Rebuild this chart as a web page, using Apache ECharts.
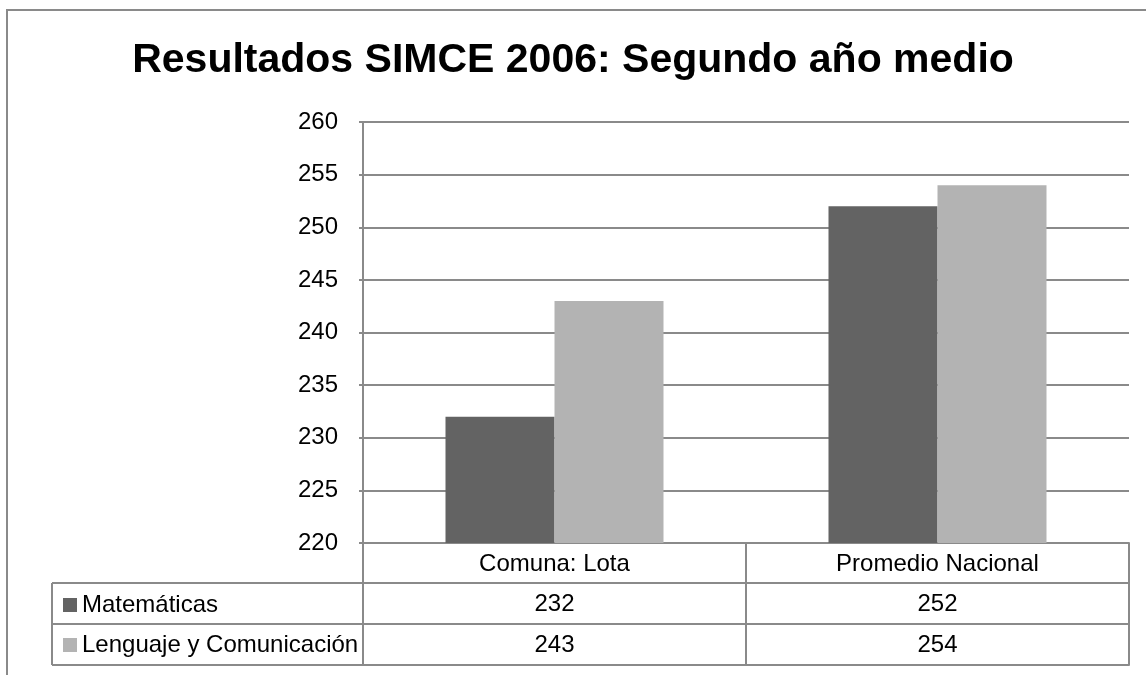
<!DOCTYPE html>
<html>
<head>
<meta charset="utf-8">
<script src="https://cdn.jsdelivr.net/npm/echarts@6/dist/echarts.min.js"></script>
<style>
  html, body { margin: 0; padding: 0; background: #fff; }
  #main { width: 1146px; height: 675px; }
</style>
</head>
<body>
<div id="main"></div>
<script>
  // datos
  const categorias = ['Comuna: Lota', 'Promedio Nacional'];
  const matematicas = [232, 252];
  const lenguaje = [243, 254];
  const nombres = ['Matemáticas', 'Lenguaje y Comunicación'];

  const FONT = '"Liberation Sans", Arial, sans-serif';
  const GRIS = '#8a8a8a';

  let myChart = echarts.init(document.getElementById('main'));

  // ejes extra para las filas de la tabla de datos
  function filaTabla(offset, valores) {
    return {
      type: 'category',
      data: categorias,
      position: 'bottom',
      offset: offset,
      axisLine: { show: true, lineStyle: { color: GRIS, width: 2 } },
      axisTick: { show: false },
      axisLabel: {
        show: !!valores,
        margin: 9,
        fontSize: 24,
        fontFamily: FONT,
        color: '#000',
        formatter: function (v, i) { return valores ? String(valores[i]) : ''; }
      },
      splitLine: { show: false }
    };
  }

  myChart.setOption({
    animation: false,
    title: {
      text: 'Resultados SIMCE 2006: Segundo año medio',
      left: 'center',
      top: 35,
      textStyle: { fontSize: 41, fontWeight: 'bold', fontFamily: FONT, color: '#000' }
    },
    legend: {
      data: nombres,
      orient: 'vertical',
      left: 58,
      top: 588,
      itemWidth: 14,
      itemHeight: 14,
      itemGap: 16,
      itemTextGap: 6,
      icon: 'rect',
      selectedMode: false,
      textStyle: { fontSize: 24, fontFamily: FONT, color: '#000' }
    },
    grid: { left: 363, right: 17, top: 122, bottom: 132 },
    xAxis: [
      {
        type: 'category',
        data: categorias,
        axisLine: { show: true, lineStyle: { color: GRIS, width: 2 } },
        axisTick: { show: true, interval: 0, length: 122, lineStyle: { color: GRIS, width: 2 } },
        axisLabel: { margin: 9, fontSize: 24, fontFamily: FONT, color: '#000' }
      },
      filaTabla(40, matematicas),
      filaTabla(81, lenguaje),
      filaTabla(122, null)
    ],
    yAxis: {
      type: 'value',
      min: 220,
      max: 260,
      interval: 5,
      axisLine: { show: true, lineStyle: { color: GRIS, width: 2 } },
      axisTick: { show: true, length: 4, lineStyle: { color: GRIS, width: 2 } },
      axisLabel: { margin: 25, fontSize: 24, fontFamily: FONT, color: '#000' },
      splitLine: { lineStyle: { color: GRIS, width: 2 } }
    },
    series: [
      {
        name: nombres[0],
        type: 'bar',
        data: matematicas,
        barWidth: 109,
        barGap: '0%',
        itemStyle: { color: '#636363' }
      },
      {
        name: nombres[1],
        type: 'bar',
        data: lenguaje,
        barWidth: 109,
        barGap: '0%',
        itemStyle: { color: '#b3b3b3' }
      }
    ],
    graphic: [
      // borde exterior del area del grafico
      { type: 'rect', shape: { x: 7, y: 10, width: 1200, height: 720 },
        style: { fill: 'none', stroke: GRIS, lineWidth: 2 }, silent: true },
      // columna izquierda de la tabla
      { type: 'line', shape: { x1: 52, y1: 583, x2: 363, y2: 583 }, style: { stroke: GRIS, lineWidth: 2 } },
      { type: 'line', shape: { x1: 52, y1: 624, x2: 363, y2: 624 }, style: { stroke: GRIS, lineWidth: 2 } },
      { type: 'line', shape: { x1: 52, y1: 665, x2: 363, y2: 665 }, style: { stroke: GRIS, lineWidth: 2 } },
      { type: 'line', shape: { x1: 52, y1: 583, x2: 52, y2: 665 }, style: { stroke: GRIS, lineWidth: 2 } }
    ]
  });

  window.onresize = function () {
    if (myChart) myChart.resize();
  };
</script>
</body>
</html>
